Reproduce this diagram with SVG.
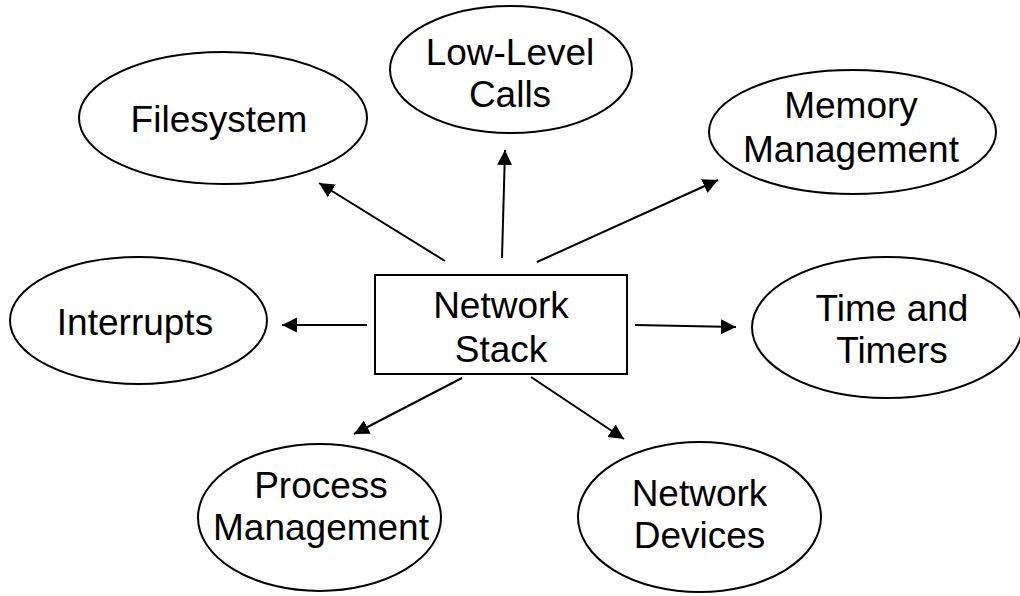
<svg xmlns="http://www.w3.org/2000/svg" width="1020" height="596" viewBox="0 0 1020 596">
  <style>
    .shape { fill: #ffffff; stroke: #000000; stroke-width: 2; }
    .label { font-family: "Liberation Sans", Arial, sans-serif; font-size: 37px; fill: #000000; text-anchor: middle; }
    .edge { stroke: #000000; stroke-width: 2; fill: none; marker-end: url(#arrow); }
  </style>
  <defs>
    <marker id="arrow" markerUnits="userSpaceOnUse" markerWidth="16" markerHeight="16" refX="15" refY="8" orient="auto">
      <path d="M0,0.5 L15,8 L0,15.5 Z" fill="#000000"/>
    </marker>
  </defs>
  <rect width="1020" height="596" fill="#ffffff"/>

  <g id="connectors">
    <line class="edge" x1="445" y1="261" x2="319" y2="183"/>
    <line class="edge" x1="502" y1="258" x2="505" y2="150"/>
    <line class="edge" x1="537" y1="262" x2="718" y2="180"/>
    <line class="edge" x1="367" y1="325" x2="282" y2="325"/>
    <line class="edge" x1="635" y1="325" x2="736" y2="327"/>
    <line class="edge" x1="462" y1="378" x2="354" y2="434"/>
    <line class="edge" x1="531" y1="377" x2="624" y2="439"/>
  </g>

  <g id="network-stack">
    <rect class="shape" x="375" y="275" width="252" height="99"/>
    <text class="label" x="501" y="318">Network</text>
    <text class="label" x="501" y="362">Stack</text>
  </g>

  <g id="filesystem">
    <ellipse class="shape" cx="223" cy="118" rx="144" ry="66"/>
    <text class="label" x="219" y="132">Filesystem</text>
  </g>

  <g id="low-level-calls">
    <ellipse class="shape" cx="511" cy="69.5" rx="121" ry="63.5"/>
    <text class="label" x="510" y="65">Low-Level</text>
    <text class="label" x="510" y="107">Calls</text>
  </g>

  <g id="memory-management">
    <ellipse class="shape" cx="852.5" cy="132" rx="143.5" ry="62"/>
    <text class="label" x="851" y="118">Memory</text>
    <text class="label" x="851" y="162">Management</text>
  </g>

  <g id="interrupts">
    <ellipse class="shape" cx="138.5" cy="320.5" rx="128.5" ry="63.5"/>
    <text class="label" x="135" y="335">Interrupts</text>
  </g>

  <g id="time-and-timers">
    <ellipse class="shape" cx="887" cy="327.5" rx="135" ry="70.5"/>
    <text class="label" x="892" y="321">Time and</text>
    <text class="label" x="892" y="363">Timers</text>
  </g>

  <g id="process-management">
    <ellipse class="shape" cx="319.5" cy="517.5" rx="121.5" ry="73.5"/>
    <text class="label" x="321" y="498">Process</text>
    <text class="label" x="321" y="540">Management</text>
  </g>

  <g id="network-devices">
    <ellipse class="shape" cx="699.5" cy="517" rx="121.5" ry="75"/>
    <text class="label" x="699.5" y="506">Network</text>
    <text class="label" x="699.5" y="548">Devices</text>
  </g>
</svg>
